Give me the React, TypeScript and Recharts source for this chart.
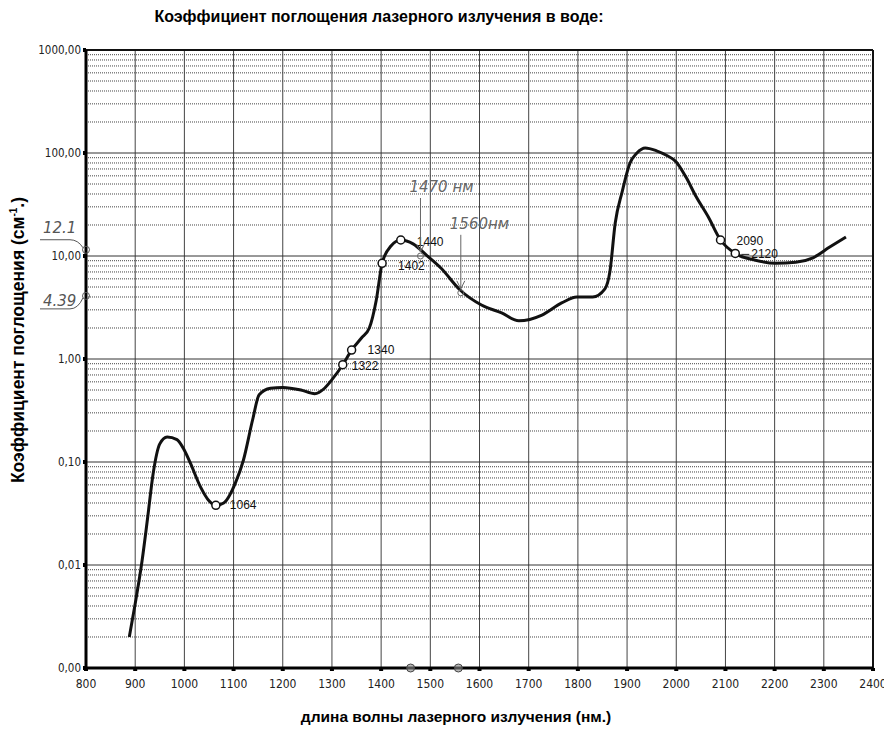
import { ComposedChart, Line, Scatter, XAxis, YAxis, CartesianGrid, ReferenceLine, ReferenceDot } from "recharts"

// wavelength (nm) -> absorption coefficient (cm^-1)
const WAVELENGTHS = [
  888, 900, 914, 925, 937, 950, 965, 985, 1000, 1012, 1033, 1050, 1064, 1080, 1104, 1120, 1139, 1152, 1175, 1200,
  1237, 1265, 1285, 1300, 1322, 1340, 1360, 1376, 1390, 1402, 1420, 1440, 1465, 1492, 1522, 1560, 1604, 1645, 1680,
  1727, 1767, 1798, 1830, 1855, 1865, 1876, 1890, 1906, 1920, 1937, 1960, 1980, 2000, 2020, 2040, 2065, 2090, 2120,
  2161, 2202, 2243, 2278, 2312, 2345,
]
const ABSORPTION = [
  0.002, 0.0042, 0.011, 0.028, 0.08, 0.15, 0.175, 0.165, 0.13, 0.098, 0.057, 0.042, 0.038, 0.04, 0.063, 0.104, 0.26,
  0.45, 0.52, 0.53, 0.5, 0.46, 0.52, 0.63, 0.88, 1.22, 1.6, 2.0, 3.7, 8.5, 12.5, 14.3, 13.1, 10.2, 7.6, 4.7, 3.34, 2.8,
  2.35, 2.67, 3.5, 4.0, 4.0, 4.8, 7, 21, 42, 80, 100, 112, 105, 95, 82, 58, 38, 24, 14.3, 10.6, 9.1, 8.5, 8.7, 9.6,
  12.2, 15.3,
]

const MARKER_WL = [1064, 1322, 1340, 1402, 1440, 2090, 2120]
const MARKER_VAL = [0.038, 0.88, 1.22, 8.5, 14.3, 14.3, 10.6]

const X_TICKS = [800, 900, 1000, 1100, 1200, 1300, 1400, 1500, 1600, 1700, 1800, 1900, 2000, 2100, 2200, 2300, 2400]
const Y_TICKS = [0.001, 0.01, 0.1, 1, 10, 100, 1000]
const MINOR_MULTS = [2, 3, 4, 5, 6, 7, 8, 9]

// handwritten notes
const LEFT_NOTES = [
  { v: 11.5, text: "12.1" },
  { v: 4.1, text: "4.39" },
]
const CURVE_NOTES = [
  { wl: 1480, v: 10, text: "1470 нм" },
  { wl: 1562, v: 4.39, text: "1560нм" },
]
const AXIS_NOTES = [1460, 1557]

const curve = WAVELENGTHS.map((wl, i) => ({ wl, v: ABSORPTION[i] }))
const markers = MARKER_WL.map((wl, i) => ({ wl, v: MARKER_VAL[i] }))
const minorLines = Y_TICKS.slice(0, -1).flatMap((d) => MINOR_MULTS.map((m) => +(d * m).toPrecision(3)))

const LABEL_POS: Record<number, [number, number, string]> = {
  1064: [14, 4, "1064"],
  1322: [9, 5, "1322"],
  1340: [16, 4, "1340"],
  1402: [16, 7, "1402"],
  1440: [16, 6, "1440"],
  2090: [16, 5, "2090"],
  2120: [16, 5, "2120"],
}

// text baseline / leader offsets of the left-hand notes
const LEFT_NOTE_POS: Record<string, { textY: number; leadY: number }> = {
  "12.1": { textY: -17, leadY: -10 },
  "4.39": { textY: 10, leadY: 13 },
}

const FONT = "'Liberation Sans', Arial, sans-serif"
const NARROW = "'Liberation Sans Narrow', 'Arial Narrow', 'DejaVu Sans Condensed', sans-serif"
const HAND = "'DejaVu Sans', sans-serif"

function MarkerShape(props: any) {
  const { cx, cy, payload } = props
  const [dx, dy, text] = LABEL_POS[payload.wl]
  return (
    <g>
      {payload.wl === 2120 && <line x1={cx + 6} y1={cy + 1} x2={cx + 14} y2={cy + 1} stroke="#222" strokeWidth={1} />}
      <circle cx={cx} cy={cy} r={4} fill="#fff" stroke="#111" strokeWidth={1.5} />
      <text x={cx + dx} y={cy + dy} fontSize={12} fontFamily={FONT} fill="#111">
        {text}
      </text>
    </g>
  )
}

function LeftNote(props: any) {
  const { cx, cy, text } = props
  const { textY, leadY } = LEFT_NOTE_POS[text]
  return (
    <g>
      <path
        d={`M ${cx - 46} ${cy + leadY} L ${cx - 16} ${cy + leadY} Q ${cx - 8} ${cy + leadY} ${cx - 3} ${cy + (leadY > 0 ? 2 : -2)}`}
        fill="none"
        stroke="#555"
        strokeWidth={1}
      />
      <circle cx={cx} cy={cy} r={3.5} fill="none" stroke="#555" strokeWidth={1} />
      <text x={cx - 43} y={cy + textY} fontSize={15} fontStyle="italic" fontFamily={HAND} fill="#555" fontWeight={300}>
        {text}
      </text>
    </g>
  )
}

function CurveNote(props: any) {
  const { cx, cy, text } = props
  return (
    <g>
      <line x1={cx} y1={cy - 58} x2={cx} y2={cy - 4} stroke="#666" strokeWidth={1} />
      <path d={`M ${cx - 4} ${cy - 12} L ${cx} ${cy - 4} L ${cx + 4} ${cy - 12}`} fill="none" stroke="#666" strokeWidth={1} />
      <circle cx={cx} cy={cy} r={3} fill="none" stroke="#666" strokeWidth={1} />
      <text x={cx - 11} y={cy - 64} fontSize={15} fontStyle="italic" fontFamily={HAND} fill="#666" fontWeight={300}>
        {text}
      </text>
    </g>
  )
}

function AxisDot(props: any) {
  const { cx, cy } = props
  return <circle cx={cx} cy={cy} r={4} fill="#888" fillOpacity={0.6} stroke="#444" strokeWidth={1} />
}

export default function App() {
  return (
    <div style={{ position: "absolute", left: 0, top: 0, width: 884, height: 729, background: "#fff", fontFamily: FONT }}>
      <div style={{ position: "absolute", left: 0, width: 758, top: 8, textAlign: "center", fontWeight: "bold", fontSize: 16 }}>
        Коэффициент поглощения лазерного излучения в воде:
      </div>
      <div style={{ position: "absolute", left: 0, width: 912, top: 708, textAlign: "center", fontWeight: "bold", fontSize: 15.5 }}>
        длина волны лазерного излучения (нм.)
      </div>
      <div
        style={{
          position: "absolute",
          left: 18,
          top: 340,
          transform: "translate(-50%, -50%) rotate(-90deg)",
          whiteSpace: "nowrap",
          fontWeight: "bold",
          fontSize: 17.5,
        }}
      >
        Коэффициент поглощения (см<sup style={{ fontSize: 10 }}>-1</sup>.)
      </div>
      <ComposedChart width={884} height={729} margin={{ top: 50, right: 11, bottom: 36, left: 10 }} style={{ position: "absolute", left: 0, top: 0 }}>
        <CartesianGrid horizontal={false} stroke="#444" strokeWidth={1} />
        {minorLines.map((v) => (
          <ReferenceLine key={v} y={v} stroke="#444" strokeWidth={1} strokeDasharray="1 1" />
        ))}
        {Y_TICKS.map((v) => (
          <ReferenceLine key={"M" + v} y={v} stroke="#333" strokeWidth={1} />
        ))}
        <ReferenceLine y={1000} stroke="#111" strokeWidth={2} />
        <ReferenceLine x={2400} stroke="#111" strokeWidth={2} />
        <XAxis
          type="number"
          dataKey="wl"
          domain={[800, 2400]}
          ticks={X_TICKS}
          interval={0}
          height={25}
          axisLine={{ stroke: "#000", strokeWidth: 3 }}
          tickLine={{ stroke: "#000", strokeWidth: 4 }}
          tickSize={3}
          tick={{ fontSize: 12, fill: "#222", fontFamily: NARROW, dy: 6 }}
        />
        <YAxis
          type="number"
          dataKey="v"
          scale="log"
          domain={[0.001, 1000]}
          ticks={Y_TICKS}
          interval={0}
          width={76}
          axisLine={{ stroke: "#000", strokeWidth: 3 }}
          tickLine={{ stroke: "#000", strokeWidth: 4 }}
          tickSize={3}
          tickFormatter={(v: number) => v.toFixed(2).replace(".", ",")}
          tick={{ fontSize: 11.5, fill: "#222", fontFamily: NARROW }}
        />
        <Line
          data={curve}
          dataKey="v"
          type="monotone"
          stroke="#111"
          strokeWidth={3}
          dot={false}
          activeDot={false}
          isAnimationActive={false}
        />
        <Scatter data={markers} dataKey="v" shape={MarkerShape} isAnimationActive={false} />
        {LEFT_NOTES.map((n) => (
          <ReferenceDot key={n.text} x={800} y={n.v} ifOverflow="visible" shape={(p: any) => <LeftNote {...p} text={n.text} />} />
        ))}
        {CURVE_NOTES.map((n) => (
          <ReferenceDot key={n.text} x={n.wl} y={n.v} ifOverflow="visible" shape={(p: any) => <CurveNote {...p} text={n.text} />} />
        ))}
        {AXIS_NOTES.map((wl) => (
          <ReferenceDot key={"a" + wl} x={wl} y={0.001} ifOverflow="visible" shape={AxisDot} />
        ))}
      </ComposedChart>
    </div>
  )
}
